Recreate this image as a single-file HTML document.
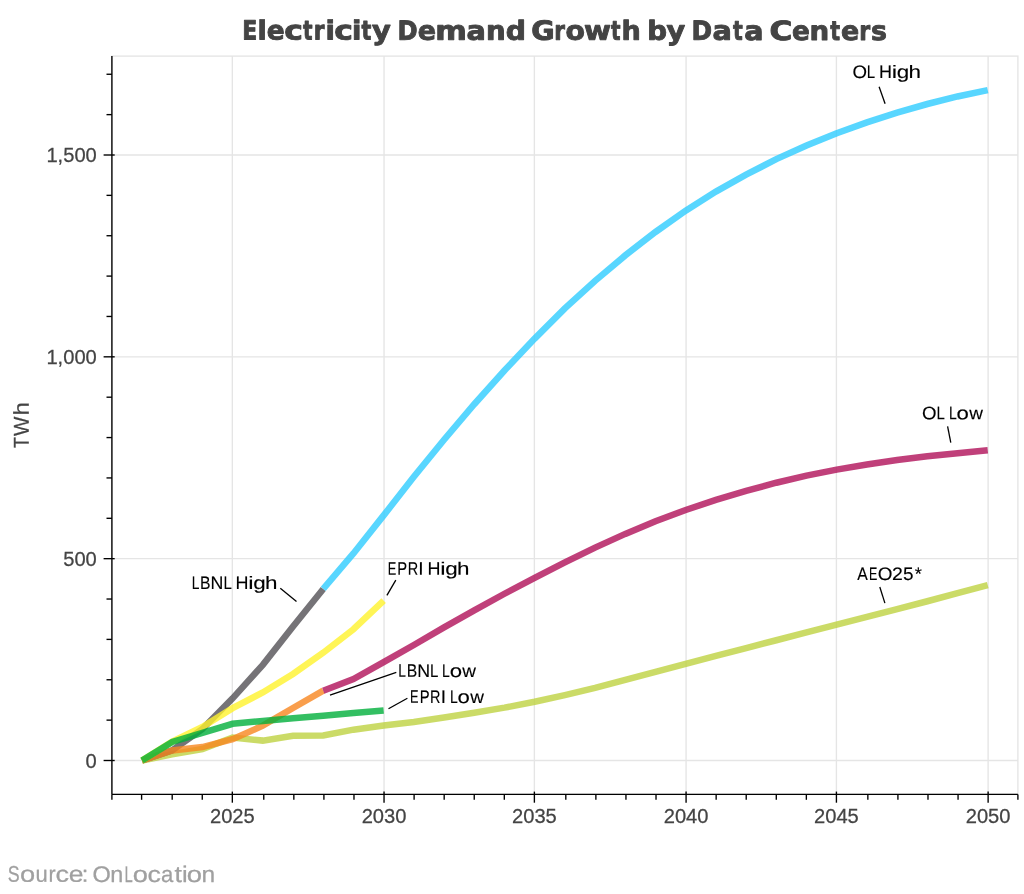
<!DOCTYPE html>
<html lang="en">
<head>
<meta charset="utf-8">
<title>Electricity Demand Growth by Data Centers</title>
<style>
html,body{margin:0;padding:0;background:#fff;}
body{width:1024px;height:894px;overflow:hidden;}
svg{display:block;}
.tick{font-family:"Liberation Sans",sans-serif;font-size:20.15px;fill:#444;stroke:#444;stroke-width:0.25px;}
.lab{font-family:"Liberation Sans",sans-serif;fill:#000;}
</style>
</head>
<body>
<svg width="1024" height="894" viewBox="0 0 1024 894">
<rect x="0" y="0" width="1024" height="894" fill="#ffffff"/>
<rect x="111.9" y="56.1" width="906.0" height="738.3" fill="none" stroke="#e5e5e5" stroke-width="1.37"/>
<g stroke="#e5e5e5" stroke-width="1.37" fill="none">
<line x1="232.34" y1="56.1" x2="232.34" y2="794.4"/>
<line x1="384.04" y1="56.1" x2="384.04" y2="794.4"/>
<line x1="534.38" y1="56.1" x2="534.38" y2="794.4"/>
<line x1="686.08" y1="56.1" x2="686.08" y2="794.4"/>
<line x1="836.42" y1="56.1" x2="836.42" y2="794.4"/>
<line x1="988.12" y1="56.1" x2="988.12" y2="794.4"/>
<line x1="111.9" y1="760.50" x2="1017.9" y2="760.50"/>
<line x1="111.9" y1="558.66" x2="1017.9" y2="558.66"/>
<line x1="111.9" y1="356.83" x2="1017.9" y2="356.83"/>
<line x1="111.9" y1="155.00" x2="1017.9" y2="155.00"/>
</g>
<g fill="none" stroke-width="6.5" stroke-linejoin="miter" stroke-linecap="butt">
<polyline points="142.00,760.50 172.20,754.24 202.41,749.00 232.62,737.49 262.82,740.60 293.02,735.76 323.23,735.47 353.44,729.66 383.64,725.58 413.84,722.07 444.05,717.51 474.25,712.79 504.46,707.66 534.66,701.77 564.87,695.11 595.08,687.84 625.28,679.81 655.49,671.89 685.69,663.86 715.89,655.95 746.10,648.08 776.30,640.25 806.51,632.46 836.71,624.67 866.92,616.87 897.12,609.08 927.33,601.25 957.53,593.22 987.74,585.11" stroke="#bed241" stroke-opacity="0.8"/>
<polyline points="142.00,760.50 172.20,750.41 202.41,729.01 232.62,698.33 262.82,664.83 293.02,626.48 323.23,588.94" stroke="#525055" stroke-opacity="0.8"/>
<polyline points="142.00,760.50 172.20,750.53 202.41,747.02 232.62,739.11 262.82,725.66 293.02,708.02 323.23,690.67" stroke="#f7861f" stroke-opacity="0.8"/>
<polyline points="142.00,760.50 172.20,741.53 202.41,727.00 232.62,708.18 262.82,692.40 293.02,673.99 323.23,652.72 353.44,629.19 383.64,600.65" stroke="#fff22c" stroke-opacity="0.8"/>
<polyline points="142.00,760.50 172.20,741.93 202.41,732.85 232.62,723.77 262.82,720.94 293.02,718.32 323.23,715.69 353.44,713.07 383.64,710.44" stroke="#00af3b" stroke-opacity="0.8"/>
<polyline points="323.23,588.94 353.44,553.42 383.64,515.39 413.84,476.84 444.05,439.78 474.25,404.26 504.46,370.47 534.66,338.58 564.87,308.47 595.08,280.82 625.28,255.39 655.49,231.97 685.69,210.70 715.89,191.57 746.10,174.69 776.30,159.15 806.51,145.47 836.71,133.24 866.92,122.38 897.12,112.65 927.33,104.01 957.53,96.46 987.74,90.08" stroke="#2eccff" stroke-opacity="0.8"/>
<polyline points="323.23,690.67 353.44,679.00 383.64,662.17 413.84,644.97 444.05,627.33 474.25,610.33 504.46,593.74 534.66,577.76 564.87,562.34 595.08,547.64 625.28,533.88 655.49,521.24 685.69,510.02 715.89,499.85 746.10,490.85 776.30,482.73 806.51,475.67 836.71,469.66 866.92,464.49 897.12,460.05 927.33,456.33 957.53,453.23 987.74,450.28" stroke="#b01059" stroke-opacity="0.8"/>
</g>
<g stroke="#000" stroke-width="1.37" fill="none">
<line x1="111.9" y1="56.1" x2="111.9" y2="794.4"/>
<line x1="111.9" y1="794.4" x2="1017.9" y2="794.4"/>
<line x1="111.90" y1="794.4" x2="111.90" y2="799.8"/>
<line x1="141.60" y1="794.4" x2="141.60" y2="799.8"/>
<line x1="172.20" y1="794.4" x2="172.20" y2="799.8"/>
<line x1="202.27" y1="794.4" x2="202.27" y2="799.8"/>
<line x1="232.34" y1="791.6" x2="232.34" y2="802.6999999999999"/>
<line x1="263.77" y1="794.4" x2="263.77" y2="799.8"/>
<line x1="293.84" y1="794.4" x2="293.84" y2="799.8"/>
<line x1="323.91" y1="794.4" x2="323.91" y2="799.8"/>
<line x1="353.98" y1="794.4" x2="353.98" y2="799.8"/>
<line x1="384.04" y1="791.6" x2="384.04" y2="802.6999999999999"/>
<line x1="414.11" y1="794.4" x2="414.11" y2="799.8"/>
<line x1="444.18" y1="794.4" x2="444.18" y2="799.8"/>
<line x1="474.24" y1="794.4" x2="474.24" y2="799.8"/>
<line x1="504.31" y1="794.4" x2="504.31" y2="799.8"/>
<line x1="534.38" y1="791.6" x2="534.38" y2="802.6999999999999"/>
<line x1="565.81" y1="794.4" x2="565.81" y2="799.8"/>
<line x1="595.88" y1="794.4" x2="595.88" y2="799.8"/>
<line x1="625.95" y1="794.4" x2="625.95" y2="799.8"/>
<line x1="656.02" y1="794.4" x2="656.02" y2="799.8"/>
<line x1="686.08" y1="791.6" x2="686.08" y2="802.6999999999999"/>
<line x1="716.15" y1="794.4" x2="716.15" y2="799.8"/>
<line x1="746.22" y1="794.4" x2="746.22" y2="799.8"/>
<line x1="776.29" y1="794.4" x2="776.29" y2="799.8"/>
<line x1="806.35" y1="794.4" x2="806.35" y2="799.8"/>
<line x1="836.42" y1="791.6" x2="836.42" y2="802.6999999999999"/>
<line x1="867.85" y1="794.4" x2="867.85" y2="799.8"/>
<line x1="897.92" y1="794.4" x2="897.92" y2="799.8"/>
<line x1="927.99" y1="794.4" x2="927.99" y2="799.8"/>
<line x1="958.06" y1="794.4" x2="958.06" y2="799.8"/>
<line x1="988.12" y1="791.6" x2="988.12" y2="802.6999999999999"/>
<line x1="1017.90" y1="794.4" x2="1017.90" y2="799.8"/>
<line x1="103.60000000000001" y1="760.50" x2="114.7" y2="760.50"/>
<line x1="106.5" y1="720.13" x2="111.9" y2="720.13"/>
<line x1="106.5" y1="679.77" x2="111.9" y2="679.77"/>
<line x1="106.5" y1="639.40" x2="111.9" y2="639.40"/>
<line x1="106.5" y1="599.03" x2="111.9" y2="599.03"/>
<line x1="103.60000000000001" y1="558.66" x2="114.7" y2="558.66"/>
<line x1="106.5" y1="518.30" x2="111.9" y2="518.30"/>
<line x1="106.5" y1="477.93" x2="111.9" y2="477.93"/>
<line x1="106.5" y1="437.56" x2="111.9" y2="437.56"/>
<line x1="106.5" y1="397.20" x2="111.9" y2="397.20"/>
<line x1="103.60000000000001" y1="356.83" x2="114.7" y2="356.83"/>
<line x1="106.5" y1="316.46" x2="111.9" y2="316.46"/>
<line x1="106.5" y1="276.10" x2="111.9" y2="276.10"/>
<line x1="106.5" y1="235.73" x2="111.9" y2="235.73"/>
<line x1="106.5" y1="195.36" x2="111.9" y2="195.36"/>
<line x1="103.60000000000001" y1="155.00" x2="114.7" y2="155.00"/>
<line x1="106.5" y1="114.63" x2="111.9" y2="114.63"/>
<line x1="106.5" y1="74.26" x2="111.9" y2="74.26"/>
</g>
<text class="tick" transform="translate(232.34,823.1) scale(1,1.03)" text-anchor="middle">2025</text>
<text class="tick" transform="translate(384.04,823.1) scale(1,1.03)" text-anchor="middle">2030</text>
<text class="tick" transform="translate(534.38,823.1) scale(1,1.03)" text-anchor="middle">2035</text>
<text class="tick" transform="translate(686.08,823.1) scale(1,1.03)" text-anchor="middle">2040</text>
<text class="tick" transform="translate(836.42,823.1) scale(1,1.03)" text-anchor="middle">2045</text>
<text class="tick" transform="translate(988.12,823.1) scale(1,1.03)" text-anchor="middle">2050</text>
<text class="tick" transform="translate(96.8,767.70) scale(1,1.03)" text-anchor="end">0</text>
<text class="tick" transform="translate(96.8,565.87) scale(1,1.03)" text-anchor="end">500</text>
<text class="tick" transform="translate(96.8,364.03) scale(1,1.03)" text-anchor="end">1,000</text>
<text class="tick" transform="translate(96.8,162.19) scale(1,1.03)" text-anchor="end">1,500</text>
<text transform="rotate(0.04 557.9 39.8)" y="39.75" style="font-family:'DejaVu Sans','Liberation Sans',sans-serif;font-size:26.47px;fill:#444;font-weight:bold;stroke:#444;stroke-width:0.9;stroke-linejoin:round;"><tspan x="242.23" textLength="15.03" lengthAdjust="spacingAndGlyphs">E</tspan><tspan x="257.49" textLength="9.22" lengthAdjust="spacingAndGlyphs">l</tspan><tspan x="266.72" textLength="17.91" lengthAdjust="spacingAndGlyphs">e</tspan><tspan x="284.20" textLength="18.66" lengthAdjust="spacingAndGlyphs">c</tspan><tspan x="302.99" textLength="9.52" lengthAdjust="spacingAndGlyphs">t</tspan><tspan x="313.83" textLength="10.68" lengthAdjust="spacingAndGlyphs">r</tspan><tspan x="325.64" textLength="9.41" lengthAdjust="spacingAndGlyphs">i</tspan><tspan x="334.30" textLength="18.66" lengthAdjust="spacingAndGlyphs">c</tspan><tspan x="351.94" textLength="9.41" lengthAdjust="spacingAndGlyphs">i</tspan><tspan x="361.58" textLength="9.84" lengthAdjust="spacingAndGlyphs">t</tspan><tspan x="372.00" textLength="18.77" lengthAdjust="spacingAndGlyphs">y</tspan><tspan> </tspan><tspan x="397.53" textLength="20.09" lengthAdjust="spacingAndGlyphs">D</tspan><tspan x="417.89" textLength="18.26" lengthAdjust="spacingAndGlyphs">e</tspan><tspan x="435.23" textLength="31.62" lengthAdjust="spacingAndGlyphs">m</tspan><tspan x="466.62" textLength="19.39" lengthAdjust="spacingAndGlyphs">a</tspan><tspan x="486.13" textLength="19.68" lengthAdjust="spacingAndGlyphs">n</tspan><tspan x="505.68" textLength="20.25" lengthAdjust="spacingAndGlyphs">d</tspan><tspan> </tspan><tspan x="531.33" textLength="23.43" lengthAdjust="spacingAndGlyphs">G</tspan><tspan x="554.23" textLength="10.68" lengthAdjust="spacingAndGlyphs">r</tspan><tspan x="565.63" textLength="19.43" lengthAdjust="spacingAndGlyphs">o</tspan><tspan x="584.02" textLength="26.94" lengthAdjust="spacingAndGlyphs">w</tspan><tspan x="611.09" textLength="9.52" lengthAdjust="spacingAndGlyphs">t</tspan><tspan x="621.57" textLength="19.29" lengthAdjust="spacingAndGlyphs">h</tspan><tspan> </tspan><tspan x="647.33" textLength="19.76" lengthAdjust="spacingAndGlyphs">b</tspan><tspan x="666.40" textLength="18.67" lengthAdjust="spacingAndGlyphs">y</tspan><tspan> </tspan><tspan x="691.38" textLength="20.57" lengthAdjust="spacingAndGlyphs">D</tspan><tspan x="712.62" textLength="19.39" lengthAdjust="spacingAndGlyphs">a</tspan><tspan x="732.88" textLength="9.74" lengthAdjust="spacingAndGlyphs">t</tspan><tspan x="744.22" textLength="19.27" lengthAdjust="spacingAndGlyphs">a</tspan><tspan> </tspan><tspan x="769.60" textLength="22.84" lengthAdjust="spacingAndGlyphs">C</tspan><tspan x="792.12" textLength="17.80" lengthAdjust="spacingAndGlyphs">e</tspan><tspan x="809.63" textLength="19.68" lengthAdjust="spacingAndGlyphs">n</tspan><tspan x="830.18" textLength="9.84" lengthAdjust="spacingAndGlyphs">t</tspan><tspan x="840.90" textLength="18.14" lengthAdjust="spacingAndGlyphs">e</tspan><tspan x="859.29" textLength="10.93" lengthAdjust="spacingAndGlyphs">r</tspan><tspan x="870.96" textLength="15.96" lengthAdjust="spacingAndGlyphs">s</tspan></text>
<text transform="rotate(-90.04)" y="28.35" style="font-family:'Liberation Sans',sans-serif;font-size:21.51px;fill:#444;stroke:#444;stroke-width:0.2;stroke-linejoin:round;"><tspan x="-448.10" textLength="10.80" lengthAdjust="spacingAndGlyphs">T</tspan><tspan x="-436.04" textLength="19.41" lengthAdjust="spacingAndGlyphs">W</tspan><tspan x="-415.58" textLength="13.45" lengthAdjust="spacingAndGlyphs">h</tspan></text>
<text transform="rotate(0.04 105.8 881.9)" y="881.90" style="font-family:'Liberation Sans',sans-serif;font-size:22.67px;fill:#a0a0a0;stroke:#a0a0a0;stroke-width:0.25;stroke-linejoin:round;"><tspan x="7.82" textLength="11.88" lengthAdjust="spacingAndGlyphs">S</tspan><tspan x="19.98" textLength="15.14" lengthAdjust="spacingAndGlyphs">o</tspan><tspan x="35.50" textLength="12.24" lengthAdjust="spacingAndGlyphs">u</tspan><tspan x="48.40" textLength="7.13" lengthAdjust="spacingAndGlyphs">r</tspan><tspan x="55.58" textLength="13.51" lengthAdjust="spacingAndGlyphs">c</tspan><tspan x="68.70" textLength="14.76" lengthAdjust="spacingAndGlyphs">e</tspan><tspan x="81.67" textLength="6.57" lengthAdjust="spacingAndGlyphs">:</tspan><tspan> </tspan><tspan x="92.41" textLength="18.29" lengthAdjust="spacingAndGlyphs">O</tspan><tspan x="110.37" textLength="13.03" lengthAdjust="spacingAndGlyphs">n</tspan><tspan x="124.61" textLength="8.26" lengthAdjust="spacingAndGlyphs">L</tspan><tspan x="132.78" textLength="15.14" lengthAdjust="spacingAndGlyphs">o</tspan><tspan x="147.59" textLength="13.39" lengthAdjust="spacingAndGlyphs">c</tspan><tspan x="160.89" textLength="12.29" lengthAdjust="spacingAndGlyphs">a</tspan><tspan x="174.52" textLength="7.45" lengthAdjust="spacingAndGlyphs">t</tspan><tspan x="182.11" textLength="5.69" lengthAdjust="spacingAndGlyphs">i</tspan><tspan x="186.67" textLength="15.25" lengthAdjust="spacingAndGlyphs">o</tspan><tspan x="201.59" textLength="13.68" lengthAdjust="spacingAndGlyphs">n</tspan></text>
<line x1="879.1" y1="86.7" x2="885.1" y2="103.8" stroke="#000" stroke-width="1.3"/>
<text transform="rotate(0.04 881.6 78.0)" y="78.00" style="font-family:'Liberation Sans',sans-serif;font-size:18.02px;fill:#000;stroke:#000;stroke-width:0.12;stroke-linejoin:round;"><tspan x="852.48" textLength="14.51" lengthAdjust="spacingAndGlyphs">O</tspan><tspan x="866.86" textLength="7.80" lengthAdjust="spacingAndGlyphs">L</tspan><tspan> </tspan><tspan x="878.94" textLength="12.97" lengthAdjust="spacingAndGlyphs">H</tspan><tspan x="891.79" textLength="5.38" lengthAdjust="spacingAndGlyphs">i</tspan><tspan x="896.72" textLength="12.47" lengthAdjust="spacingAndGlyphs">g</tspan><tspan x="908.45" textLength="12.50" lengthAdjust="spacingAndGlyphs">h</tspan></text>
<line x1="947.6" y1="426.4" x2="950.8" y2="442.7" stroke="#000" stroke-width="1.3"/>
<text transform="rotate(0.04 946.0 419.3)" y="419.30" style="font-family:'Liberation Sans',sans-serif;font-size:18.02px;fill:#000;stroke:#000;stroke-width:0.12;stroke-linejoin:round;"><tspan x="922.03" textLength="14.51" lengthAdjust="spacingAndGlyphs">O</tspan><tspan x="936.41" textLength="7.80" lengthAdjust="spacingAndGlyphs">L</tspan><tspan> </tspan><tspan x="948.91" textLength="7.80" lengthAdjust="spacingAndGlyphs">L</tspan><tspan x="956.63" textLength="12.34" lengthAdjust="spacingAndGlyphs">o</tspan><tspan x="969.19" textLength="13.71" lengthAdjust="spacingAndGlyphs">w</tspan></text>
<line x1="879.8" y1="587.0" x2="884.9" y2="603.1" stroke="#000" stroke-width="1.3"/>
<text transform="rotate(0.04 886.0 580.0)" y="580.00" style="font-family:'Liberation Sans',sans-serif;font-size:18.02px;fill:#000;stroke:#000;stroke-width:0.12;stroke-linejoin:round;"><tspan x="857.23" textLength="10.54" lengthAdjust="spacingAndGlyphs">A</tspan><tspan x="869.03" textLength="8.34" lengthAdjust="spacingAndGlyphs">E</tspan><tspan x="877.67" textLength="14.68" lengthAdjust="spacingAndGlyphs">O</tspan><tspan x="891.98" textLength="10.84" lengthAdjust="spacingAndGlyphs">2</tspan><tspan x="903.10" textLength="10.53" lengthAdjust="spacingAndGlyphs">5</tspan><tspan x="914.66" textLength="7.16" lengthAdjust="spacingAndGlyphs">*</tspan></text>
<line x1="280.3" y1="588.3" x2="296.5" y2="601.6" stroke="#000" stroke-width="1.3"/>
<text transform="rotate(0.04 229.6 589.0)" y="589.05" style="font-family:'Liberation Sans',sans-serif;font-size:18.02px;fill:#000;stroke:#000;stroke-width:0.12;stroke-linejoin:round;"><tspan x="191.73" textLength="7.67" lengthAdjust="spacingAndGlyphs">L</tspan><tspan x="200.07" textLength="10.50" lengthAdjust="spacingAndGlyphs">B</tspan><tspan x="210.55" textLength="12.84" lengthAdjust="spacingAndGlyphs">N</tspan><tspan x="223.41" textLength="7.80" lengthAdjust="spacingAndGlyphs">L</tspan><tspan> </tspan><tspan x="235.39" textLength="12.97" lengthAdjust="spacingAndGlyphs">H</tspan><tspan x="248.24" textLength="5.38" lengthAdjust="spacingAndGlyphs">i</tspan><tspan x="253.17" textLength="12.47" lengthAdjust="spacingAndGlyphs">g</tspan><tspan x="264.90" textLength="12.50" lengthAdjust="spacingAndGlyphs">h</tspan></text>
<line x1="395.8" y1="580.2" x2="386.9" y2="595.4" stroke="#000" stroke-width="1.3"/>
<text transform="rotate(0.04 423.6 574.7)" y="574.70" style="font-family:'Liberation Sans',sans-serif;font-size:18.02px;fill:#000;stroke:#000;stroke-width:0.12;stroke-linejoin:round;"><tspan x="387.76" textLength="8.53" lengthAdjust="spacingAndGlyphs">E</tspan><tspan x="397.30" textLength="9.88" lengthAdjust="spacingAndGlyphs">P</tspan><tspan x="407.72" textLength="10.44" lengthAdjust="spacingAndGlyphs">R</tspan><tspan x="418.35" textLength="5.30" lengthAdjust="spacingAndGlyphs">I</tspan><tspan> </tspan><tspan x="427.44" textLength="12.97" lengthAdjust="spacingAndGlyphs">H</tspan><tspan x="440.29" textLength="5.38" lengthAdjust="spacingAndGlyphs">i</tspan><tspan x="445.22" textLength="12.47" lengthAdjust="spacingAndGlyphs">g</tspan><tspan x="456.95" textLength="12.50" lengthAdjust="spacingAndGlyphs">h</tspan></text>
<line x1="396.3" y1="672.3" x2="330.0" y2="695.1" stroke="#000" stroke-width="1.3"/>
<text transform="rotate(0.04 430.9 676.9)" y="676.90" style="font-family:'Liberation Sans',sans-serif;font-size:18.02px;fill:#000;stroke:#000;stroke-width:0.12;stroke-linejoin:round;"><tspan x="398.33" textLength="7.67" lengthAdjust="spacingAndGlyphs">L</tspan><tspan x="406.67" textLength="10.50" lengthAdjust="spacingAndGlyphs">B</tspan><tspan x="417.15" textLength="12.84" lengthAdjust="spacingAndGlyphs">N</tspan><tspan x="430.01" textLength="7.80" lengthAdjust="spacingAndGlyphs">L</tspan><tspan> </tspan><tspan x="442.11" textLength="7.80" lengthAdjust="spacingAndGlyphs">L</tspan><tspan x="449.83" textLength="12.34" lengthAdjust="spacingAndGlyphs">o</tspan><tspan x="462.39" textLength="13.71" lengthAdjust="spacingAndGlyphs">w</tspan></text>
<line x1="407.4" y1="698.2" x2="388.5" y2="708.8" stroke="#000" stroke-width="1.3"/>
<text transform="rotate(0.04 440.6 702.9)" y="702.90" style="font-family:'Liberation Sans',sans-serif;font-size:18.02px;fill:#000;stroke:#000;stroke-width:0.12;stroke-linejoin:round;"><tspan x="410.11" textLength="8.53" lengthAdjust="spacingAndGlyphs">E</tspan><tspan x="419.65" textLength="9.88" lengthAdjust="spacingAndGlyphs">P</tspan><tspan x="430.07" textLength="10.44" lengthAdjust="spacingAndGlyphs">R</tspan><tspan x="440.70" textLength="5.30" lengthAdjust="spacingAndGlyphs">I</tspan><tspan> </tspan><tspan x="449.91" textLength="7.80" lengthAdjust="spacingAndGlyphs">L</tspan><tspan x="457.63" textLength="12.34" lengthAdjust="spacingAndGlyphs">o</tspan><tspan x="470.19" textLength="13.71" lengthAdjust="spacingAndGlyphs">w</tspan></text>
</svg>
</body>
</html>
